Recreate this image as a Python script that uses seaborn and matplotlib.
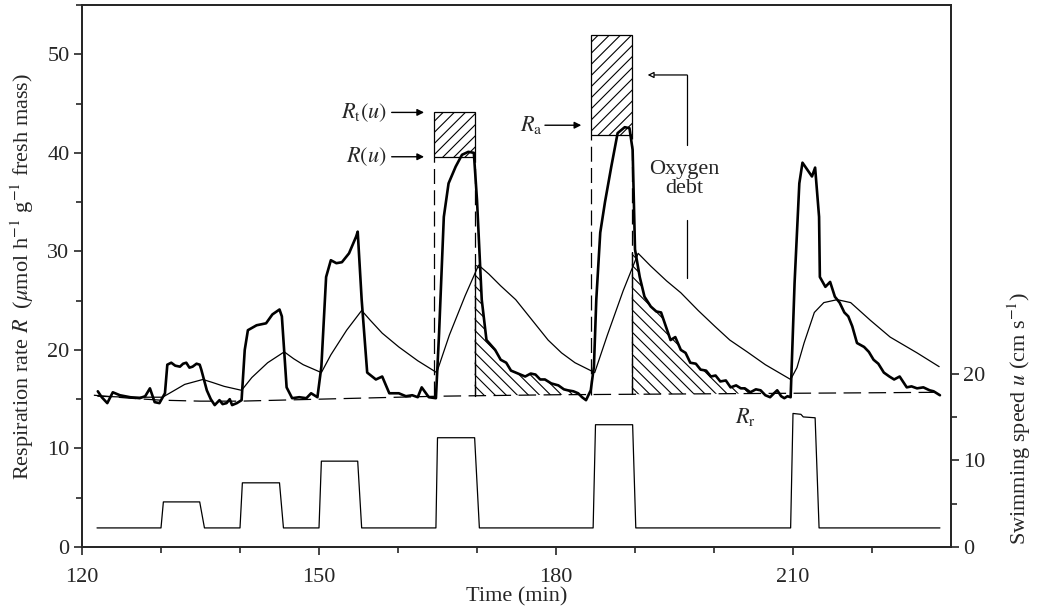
import numpy as np
import seaborn as sns
import matplotlib.pyplot as plt
from matplotlib.patches import Rectangle

sns.set_style("ticks")
plt.rcParams['font.family'] = ['Liberation Serif', 'DejaVu Serif']
plt.rcParams['mathtext.fontset'] = 'stix'
plt.rcParams['hatch.linewidth'] = 0.8

# respiration rate R (measured, bold)
t_R = [122.0, 122.5, 123.2, 123.9, 124.8, 126.1, 127.3, 128.0, 128.6, 129.2, 129.8, 130.5, 130.8, 131.3,
       131.8, 132.4, 132.8, 133.2, 133.6, 134.0, 134.5, 134.9, 135.1, 135.8, 136.3, 136.8, 137.4, 137.8,
       138.3, 138.7, 139.0, 139.6, 140.2, 140.6, 141.0, 142.1, 143.3, 144.1, 145.0, 145.3, 145.9, 146.6,
       147.5, 148.4, 149.0, 149.8, 150.3, 150.9, 151.5, 152.2, 152.9, 153.8, 154.7, 154.9, 155.4, 156.1,
       157.2, 158.0, 158.9, 160.1, 161.0, 161.8, 162.5, 163.0, 163.9, 164.8, 165.2, 165.8, 166.4, 167.3,
       168.1, 168.9, 169.6, 170.0, 170.6, 171.2, 172.3, 173.0, 173.7, 174.3, 174.9, 175.5, 176.1, 176.8,
       177.4, 178.0, 178.6, 179.4, 180.3, 181.0, 181.5, 182.2, 182.8, 183.3, 183.8, 184.4, 184.8, 185.1,
       185.6, 186.2, 187.0, 187.8, 188.7, 189.3, 189.7, 190.0, 190.6, 191.2, 192.0, 192.7, 193.3, 194.5,
       195.1, 195.8, 196.4, 197.0, 197.7, 198.3, 199.0, 199.6, 200.2, 200.8, 201.5, 202.1, 202.8, 203.4,
       203.9, 204.6, 205.3, 205.9, 206.5, 207.1, 207.6, 208.0, 208.5, 208.9, 209.3, 209.7, 210.2, 210.8,
       211.2, 211.8, 212.4, 212.8, 213.3, 213.4, 214.1, 214.7, 215.3, 215.9, 216.5, 217.0, 217.5, 218.1,
       219.0, 219.6, 220.2, 220.8, 221.5, 222.2, 222.8, 223.5, 224.4, 225.0, 225.7, 226.5, 227.3, 227.8,
       228.2, 228.6]
R_meas = [15.8, 15.2, 14.6, 15.7, 15.4, 15.2, 15.1, 15.3, 16.1, 14.7, 14.6, 15.6, 18.5, 18.7,
          18.4, 18.3, 18.6, 18.7, 18.2, 18.3, 18.6, 18.5, 18.0, 15.9, 15.0, 14.4, 14.9, 14.5,
          14.6, 15.0, 14.4, 14.6, 14.9, 20.0, 22.0, 22.5, 22.7, 23.6, 24.1, 23.4, 16.2, 15.1,
          15.2, 15.1, 15.6, 15.2, 18.3, 27.4, 29.1, 28.8, 28.9, 29.8, 31.5, 32.0, 25.1, 17.7,
          17.0, 17.3, 15.6, 15.6, 15.3, 15.4, 15.2, 16.2, 15.2, 15.1, 21.7, 33.5, 36.9, 38.6,
          39.8, 40.1, 40.0, 35.2, 25.1, 21.0, 20.0, 19.0, 18.7, 17.9, 17.7, 17.5, 17.3, 17.6,
          17.5, 17.0, 17.0, 16.6, 16.4, 16.0, 15.9, 15.8, 15.6, 15.2, 14.9, 15.9, 18.3, 25.1,
          31.9, 35.0, 38.6, 42.0, 42.6, 42.5, 40.3, 30.2, 27.4, 25.4, 24.4, 23.9, 23.8, 21.0,
          21.3, 20.0, 19.7, 18.7, 18.6, 18.0, 17.9, 17.3, 17.4, 16.8, 16.9, 16.2, 16.4, 16.1,
          16.1, 15.7, 16.0, 15.9, 15.4, 15.2, 15.6, 15.9, 15.3, 15.1, 15.3, 15.2, 26.8, 36.9,
          39.0, 38.3, 37.6, 38.5, 33.5, 27.4, 26.4, 26.9, 25.4, 24.8, 23.8, 23.4, 22.4, 20.7,
          20.3, 19.8, 19.0, 18.6, 17.7, 17.3, 17.0, 17.3, 16.2, 16.3, 16.1, 16.2, 15.9, 15.8,
          15.6, 15.4]

# model response (thin)
t_model = [122.0, 126.0, 130.2, 131.5, 133.0, 135.3, 136.5, 138.0, 140.2, 141.5, 143.5, 145.6, 146.8,
           148.0, 150.3, 151.5, 153.5, 155.4, 156.5, 158.0, 160.1, 162.5, 164.9, 166.5, 168.5, 170.2,
           171.5, 173.0, 174.9, 177.0, 179.0, 180.7, 182.4, 184.9, 186.5, 188.5, 190.4, 192.0, 194.0,
           195.8, 198.0, 200.1, 202.0, 204.2, 206.5, 209.7, 210.5, 211.4, 212.7, 213.9, 215.6, 217.3,
           219.8, 222.3, 225.7, 228.5]
R_model = [15.3, 15.2, 15.2, 15.8, 16.5, 17.0, 16.7, 16.3, 15.9, 17.2, 18.7, 19.8, 19.1,
           18.5, 17.7, 19.5, 22.0, 24.0, 23.0, 21.7, 20.3, 18.9, 17.7, 21.5, 25.5, 28.6,
           27.7, 26.5, 25.1, 23.0, 21.0, 19.7, 18.7, 17.7, 21.5, 26.0, 29.8, 28.5, 27.0,
           25.8, 24.0, 22.4, 21.0, 19.8, 18.5, 17.0, 18.2, 20.7, 23.8, 24.8, 25.1, 24.8,
           23.0, 21.3, 19.7, 18.3]

# resting rate R_r (dashed)
t_rest = [121.5, 126, 130, 135, 140, 145, 150, 155, 160, 165, 170, 180, 190, 200, 210, 220, 228.6]
R_rest = [15.4, 15.1, 14.9, 14.8, 14.8, 14.9, 15.0, 15.1, 15.2, 15.3, 15.35, 15.45, 15.5, 15.55, 15.6,
          15.65, 15.7]

# swimming speed u (right axis)
t_u = [121.9, 130.0, 130.3, 134.9, 135.5, 140.0, 140.3, 145.0, 145.5, 150.0, 150.3, 154.9, 155.4,
       164.8, 165.0, 169.7, 170.3, 184.7, 185.0, 189.7, 190.1, 209.7, 210.0, 211.0, 211.3, 212.8,
       213.3, 228.6]
u = [2.2, 2.2, 5.2, 5.2, 2.2, 2.2, 7.4, 7.4, 2.2, 2.2, 9.9, 9.9, 2.2,
     2.2, 12.6, 12.6, 2.2, 2.2, 14.1, 14.1, 2.2, 2.2, 15.4, 15.3, 15.0, 14.9,
     2.2, 2.2]

# swim bouts with annotated levels
bout_start = [164.5, 184.4]
bout_end = [169.7, 189.6]
R_u_level = [39.6, 41.8]      # R(u), R_a
R_top_level = [44.1, 52.0]    # R_t(u), top of second box
debt_cap = [28.6, 29.8]
debt_end = [182.8, 205.0]

fig = plt.figure(figsize=(10.43, 6.13), dpi=100)
ax = fig.add_axes([82 / 1043, 1 - 547 / 613, (951 - 82) / 1043, (547 - 5) / 613])
ax2 = ax.twinx()

sns.lineplot(x=t_R, y=R_meas, ax=ax, color='k', lw=1.9, estimator=None, sort=False)
sns.lineplot(x=t_model, y=R_model, ax=ax, color='k', lw=0.9, estimator=None, sort=False)
sns.lineplot(x=t_rest, y=R_rest, ax=ax, color='k', lw=0.9, estimator=None, sort=False,
             dashes=False).lines[-1].set_dashes((14, 6))
sns.lineplot(x=t_u, y=u, ax=ax2, color='k', lw=0.9, estimator=None, sort=False)

for i in range(2):
    t0, t1 = bout_start[i], bout_end[i]
    base0 = np.interp(t0, t_rest, R_rest)
    base1 = np.interp(t1, t_rest, R_rest)
    # vertical dashed lines
    ax.plot([t0, t0], [base0, R_u_level[i]], color='k', lw=0.9, dashes=(12, 5))
    ax.plot([t1, t1], [base1, R_u_level[i]], color='k', lw=0.9, dashes=(12, 5))
    # hatched box
    ax.add_patch(Rectangle((t0, R_u_level[i]), t1 - t0, R_top_level[i] - R_u_level[i],
                           fill=False, hatch='///', edgecolor='k', lw=0.9))
    # oxygen debt repayment area
    tt = np.linspace(t1, debt_end[i], 300)
    top = np.minimum(np.interp(tt, t_R, R_meas), debt_cap[i])
    base = np.interp(tt, t_rest, R_rest)
    ax.fill_between(tt, base, np.maximum(top, base), facecolor='none', edgecolor='k',
                    hatch='\\\\\\', lw=0)
    ax.plot([t1, t1], [base1, debt_cap[i]], color='k', lw=0.9)

fs = 16
arr = dict(arrowstyle='-|>', color='k', lw=1, mutation_scale=10, shrinkA=0, shrinkB=0)
ax.annotate('', xy=(163.3, R_top_level[0]), xytext=(159.2, R_top_level[0]), arrowprops=arr)
ax.annotate('', xy=(163.3, R_u_level[0]), xytext=(159.2, R_u_level[0]), arrowprops=arr)
ax.annotate('', xy=(183.2, 42.8), xytext=(178.6, 42.8), arrowprops=arr)
ax.text(158.6, R_top_level[0], r'$R_{\mathrm{t}}(u)$', ha='right', va='center', fontsize=fs)
ax.text(158.6, R_u_level[0], r'$R(u)$', ha='right', va='center', fontsize=fs)
ax.text(178.3, 42.8, r'$R_{\mathrm{a}}$', ha='right', va='center', fontsize=fs)
ax.text(196.2, 37.3, 'Oxygen\ndebt', ha='center', va='center', fontsize=fs, linespacing=1.0)
ax.plot([196.6, 196.6], [47.9, 40.8], color='k', lw=0.9)
ax.plot([196.6, 196.6], [33.2, 27.3], color='k', lw=0.9)
ax.annotate('', xy=(191.6, 47.9), xytext=(196.6, 47.9),
            arrowprops=dict(arrowstyle='-|>', color='k', fc='white', lw=0.9,
                            mutation_scale=9, shrinkA=0, shrinkB=0))
ax.text(204.0, 13.2, r'$R_{\mathrm{r}}$', ha='center', va='center', fontsize=fs)

ax.set_xlim(120, 230)
ax.set_ylim(0, 55)
ax2.set_ylim(0, 62.5)
ax.set_xticks([120, 150, 180, 210])
ax.set_xticks(np.arange(130, 230, 10), minor=True)
ax.set_yticks(np.arange(0, 51, 10))
ax.set_yticks(np.arange(5, 56, 10), minor=True)
ax2.set_yticks([0, 10, 20])
ax2.set_yticks([5, 15], minor=True)
for a in (ax, ax2):
    a.tick_params(which='major', length=6, width=1.2, labelsize=fs, direction='out', pad=3)
    a.tick_params(which='minor', length=4, width=1.2, direction='out')
    for s in a.spines.values():
        s.set_linewidth(1.3)
ax.tick_params(axis='x', which='major', pad=9)

ax.set_xlabel('Time (min)', fontsize=fs, labelpad=0)
ax.set_ylabel(r'Respiration rate $R$  ($\mu$mol h$^{-1}$ g$^{-1}$ fresh mass)', fontsize=fs, labelpad=8)
ax2.set_ylabel(r'Swimming speed $u$ (cm s$^{-1}$)', fontsize=fs)
ax2.yaxis.label.set_va('center')
ax2.yaxis.set_label_coords(1.079, 0.238)

fig.savefig('out.png', dpi=100)
